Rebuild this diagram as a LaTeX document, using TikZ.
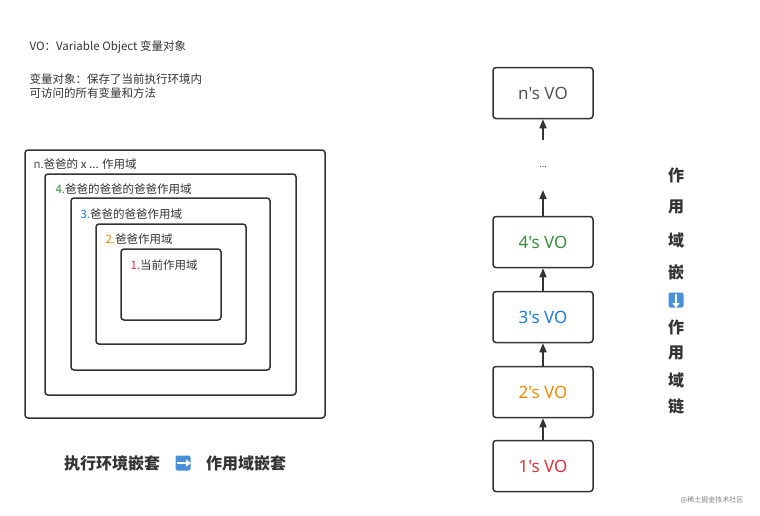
\documentclass[tikz,border=0pt]{standalone}
\usepackage{fontspec}
\setmainfont{Noto Sans CJK SC}
\newfontfamily\latinfont{Noto Sans}
\usetikzlibrary{arrows.meta}
\definecolor{cred}{HTML}{D9323C}
\definecolor{corange}{HTML}{F08A00}
\definecolor{cblue}{HTML}{1E7BD8}
\definecolor{cgreen}{HTML}{3A8E3A}
\definecolor{cgray}{HTML}{555555}
\definecolor{cline}{HTML}{333333}
\definecolor{cemoji}{HTML}{4A90D9}
\begin{document}
\begin{tikzpicture}[
    x=1pt, y=-1pt,
    >={Triangle[length=9pt,width=7pt]},
    frame/.style = {draw=cline, line width=1.5pt, rounded corners=3pt},
    vobox/.style = {frame, minimum width=100pt, minimum height=51pt,
      font=\latinfont\fontsize{17}{20}\selectfont},
    scopelbl/.style = {anchor=west, font=\fontsize{11.5}{13}\selectfont, text=cline},
    note/.style = {anchor=west, font=\fontsize{11.5}{14}\selectfont, text=cline},
    vchar/.style = {font=\fontsize{16}{18}\selectfont\bfseries, text=cline},
    emoji/.style = {fill=cemoji, rounded corners=2pt, minimum size=15pt, inner sep=0pt}
  ]
  \useasboundingbox (0,0) rectangle (760,515);

  % notes
  \node[note] (vo) at (26,47) {VO：Variable Object 变量对象};
  \node[note, align=left] (def) at (26,86) {变量对象：保存了当前执行环境内\\可访问的所有变量和方法};

  % nested scopes
  \draw[frame] (25,150) rectangle (325,418);
  \draw[frame] (45,174) rectangle (296,395);
  \draw[frame] (71,198) rectangle (270,370);
  \draw[frame] (96,224) rectangle (246,344);
  \draw[frame] (121,249) rectangle (221,320);
  \node[scopelbl] (sn) at (30,164) {\textcolor{cgray}{n.}爸爸的 x ... 作用域};
  \node[scopelbl] (s4) at (52,189) {\textcolor{cgreen}{4.}爸爸的爸爸的爸爸作用域};
  \node[scopelbl] (s3) at (77,214) {\textcolor{cblue}{3.}爸爸的爸爸作用域};
  \node[scopelbl] (s2) at (102,239) {\textcolor{corange}{2.}爸爸作用域};
  \node[scopelbl] (s1) at (127,265) {\textcolor{cred}{1.}当前作用域};

  \node[font=\fontsize{16}{18}\selectfont\bfseries, text=cline] (cap1) at (112,463) {执行环境嵌套};
  \node[emoji] (e1) at (183,463) {};
  \draw[white, line width=2.2pt, -{Triangle[length=5pt,width=7pt]}] (177,463) -- (191,463);
  \node[font=\fontsize{16}{18}\selectfont\bfseries, text=cline] (cap2) at (246,463) {作用域嵌套};

  % VO chain
  \node[vobox, text=cgray] (von) at (543,93) {n's VO};
  \node[font=\fontsize{9}{10}\selectfont, text=cline] (dots) at (543,167) {...};
  \node[vobox, text=cgreen] (vo4) at (543,242) {4's VO};
  \node[vobox, text=cblue] (vo3) at (543,317) {3's VO};
  \node[vobox, text=corange] (vo2) at (543,392) {2's VO};
  \node[vobox, text=cred] (vo1) at (543,466) {1's VO};
  \coordinate (an) at (543,140);
  \coordinate (a4) at (543,190);
  \draw[cline, line width=1.5pt, ->] (an) -- (von.south);
  \draw[cline, line width=1.5pt, ->] (vo4.north) -- (a4);
  \foreach \lo/\hi in {vo3/vo4, vo2/vo3, vo1/vo2}
    \draw[cline, line width=1.5pt, ->] (\lo.north) -- (\hi.south);

  % chain caption
  \foreach \ch/\y [count=\i] in {作/175, 用/207, 域/240, 嵌/272}
    \node[vchar] (ca\i) at (676,\y) {\ch};
  \node[emoji] (e2) at (676,300) {};
  \draw[white, line width=2.2pt, -{Triangle[length=5pt,width=7pt]}] (676,294) -- (676,308);
  \foreach \ch/\y [count=\i] in {作/327, 用/353, 域/380, 链/406}
    \node[vchar] (cb\i) at (676,\y) {\ch};

  \node[font=\fontsize{7}{8}\selectfont, text=gray] (wm) at (712,500) {@稀土掘金技术社区};
\end{tikzpicture}
\end{document}
